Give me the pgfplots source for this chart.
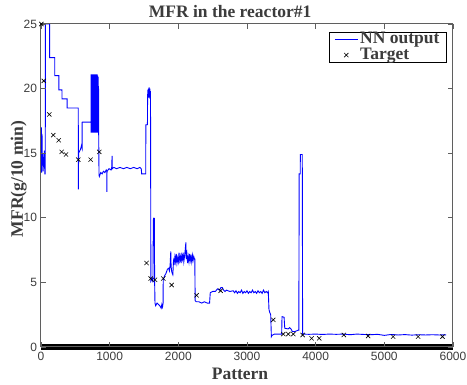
\documentclass[border=0pt]{standalone}
\usepackage{pgfplots}
\pgfplotsset{compat=1.18}
\usepackage{fontspec}
\setmainfont{Liberation Serif}
\newfontfamily\ticksans{Liberation Sans}
\definecolor{txt}{RGB}{60,60,60}
\definecolor{frm}{RGB}{95,95,95}
\newcommand\bigbf{\bfseries\fontsize{17.5}{18}\selectfont\color{txt}}
\begin{document}
\begin{tikzpicture}[x=1pt,y=1pt]
\useasboundingbox (-41,-38) rectangle (426,347);
\begin{axis}[
 at={(0,0)}, anchor=origin,
 scale only axis, width=412pt, height=323pt,
 xmin=0, xmax=6000, ymin=0, ymax=25,
 xtick={0,1000,...,6000}, ytick={0,5,...,25},
 /pgf/number format/1000 sep={},
 /pgf/number format/assume math mode=true,
 tick align=inside, major tick length=5pt,
 axis line style={frm, line width=1pt},
 every tick/.style={frm, line width=0.8pt},
 ticklabel style={font=\ticksans\fontsize{12}{12}\selectfont, text=txt},
 xticklabel style={yshift=-2pt},
 yticklabel style={xshift=-0.5pt},
 clip=false, axis on top,
 title={MFR in the reactor\#1},
 title style={at={(axis description cs:0.459,1)}, anchor=base, font=\bigbf},
 xlabel={Pattern},
 xlabel style={at={(axis description cs:0.483,0)}, anchor=base, yshift=-33pt, font=\bigbf},
 ylabel={MFR(g/10 min)},
 ylabel style={at={(axis description cs:-0.0437,0.52)}, anchor=base, font=\bigbf},
 legend image code/.code={\draw[mark repeat=2,mark phase=2,#1] plot coordinates {(0pt,0pt) (11.5pt,0pt) (23pt,0pt)};},
 legend style={at={(axis description cs:0.9854,0.975)}, anchor=north east, draw=black, line width=1pt,
   font=\bigbf, inner xsep=5pt, inner ysep=0pt, row sep=1.5pt,
   nodes={inner ysep=0pt, inner xsep=2pt, text height=11pt, text depth=3pt}},
 legend cell align=left,
]
\addplot[black, line width=6.4pt, forget plot] coordinates {(0,0) (6000,0)};
\addplot[blue, line width=0.9pt] coordinates {
(0,15.0)(5,17.0)(10,13.5)(15,16.5)(20,14.2)(25,15.0)(30,13.6)(40,14.5)(50,15.2)(55,13.4)(62,13.4)(64,25)(125,25)(126,22.4)
(200,22.4)(201,21.0)(260,21.0)(261,19.9)(305,19.9)(306,19.2)(380,19.2)(381,18.5)(543,18.5)(544,12.2)(548,15.0)(575,15.3)
(590,15.6)(598,15.4)(600,17.4)(728,17.4)(728,16.6)
(730,21.1)(732,16.6)(734,20.9)(736,16.6)(738,21.1)(740,16.7)(742,21.0)(744,16.6)(746,21.1)(748,16.6)(750,20.8)(752,16.6)(754,21.1)(756,16.6)(758,21.0)(760,16.7)(762,21.1)(764,16.6)(766,20.9)(768,16.6)(770,21.1)(772,16.6)(774,21.0)(776,16.6)(778,20.7)(780,16.6)(782,21.1)(784,16.6)(786,21.0)(788,16.6)(790,20.6)(792,16.6)(794,21.1)(796,16.6)(798,20.9)(800,16.6)(802,21.1)(804,16.7)(806,20.5)(808,16.6)(810,21.0)(812,16.6)(814,20.8)(816,16.6)(818,21.1)(820,16.6)(822,20.6)(824,16.6)(826,21.0)(828,16.6)(830,20.4)(832,16.6)(834,20.9)(836,16.6)(838,20.2)(840,16.6)
(845,13.3)(850,13.2)(870,13.5)(890,13.4)(910,13.6)(930,13.5)(950,13.7)(958,13.6)(960,12.0)(962,13.6)(990,13.8)(1020,13.7)
(1030,13.9)(1035,14.8)(1038,13.8)(1060,13.9)(1100,13.8)(1150,13.9)(1200,13.8)(1250,13.9)(1300,13.8)(1350,13.9)(1400,13.8)
(1440,13.9)(1460,13.8)(1466,13.4)(1525,13.4)(1527,17.2)(1550,17.2)(1552,19.0)(1555,19.9)(1560,19.4)(1565,20.0)(1570,19.3)
(1575,20.1)(1580,19.5)(1585,20.0)(1590,19.2)(1594,19.8)(1596,17.0)(1600,5.1)(1620,5.3)(1630,5.0)(1636,9.8)(1640,10.0)
(1645,9.6)(1650,10.0)(1655,5.0)(1660,3.4)(1670,3.2)(1690,3.4)(1710,3.3)(1730,3.2)(1750,3.0)(1760,3.3)(1770,3.1)(1778,3.4)
(1780,5.2)(1800,5.5)(1820,5.7)(1840,6.0)(1860,6.1)(1870,5.9)(1880,6.3)(1890,7.4)(1895,6.2)(1905,5.8)(1920,5.6)(1930,6.7)
(1940,6.5)(1950,7.0)(1960,6.6)(1970,7.2)(1980,6.5)(1990,6.9)(2000,6.6)(2010,7.3)(2020,6.7)(2030,7.0)(2040,6.5)(2050,7.1)
(2060,6.8)(2070,7.3)(2080,6.6)(2090,7.0)(2100,7.5)(2110,8.1)(2115,6.8)(2125,7.2)(2135,6.5)(2145,7.0)(2155,6.6)(2165,7.2)
(2175,6.7)(2185,7.0)(2195,6.6)(2205,7.1)(2215,6.7)(2225,7.0)(2235,6.8)(2240,6.8)(2245,3.6)(2260,3.5)(2300,3.5)(2340,3.4)
(2380,3.5)(2420,3.4)(2455,3.4)(2465,4.2)(2500,4.3)(2540,4.3)(2570,4.5)(2600,4.4)(2620,4.6)(2640,4.6)(2660,4.4)(2680,4.3)
(2700,4.4)(2750,4.3)(2800,4.35)(2820,4.2)(2840,4.35)(2860,4.15)(2880,4.3)(2900,4.2)(2920,4.4)(2940,4.15)(2960,4.3)(2980,4.2)
(3000,4.35)(3020,4.15)(3040,4.3)(3060,4.2)(3080,4.4)(3100,4.2)(3120,4.3)(3140,4.15)(3160,4.35)(3180,4.2)(3200,4.3)(3220,4.15)
(3240,4.4)(3260,4.2)(3280,4.3)(3300,4.2)(3310,4.3)(3320,2.9)(3330,2.7)(3345,2.5)(3355,0.8)(3365,0.9)(3400,1.0)(3450,1.0)
(3505,1.0)(3510,2.35)(3540,2.3)(3550,1.45)(3600,1.4)(3620,1.5)(3640,1.4)(3660,1.2)(3700,1.2)(3745,1.3)(3755,1.3)(3760,13.4)
(3775,13.4)(3777,14.9)(3805,14.9)(3810,1.0)(3820,1.0)(3900,0.98)(4000,1.0)(4100,0.97)(4200,1.0)(4300,0.98)(4400,1.0)
(4500,0.95)(4600,1.0)(4700,0.97)(4800,0.95)(4900,0.98)(5000,0.9)(5100,0.97)(5200,0.93)(5300,0.96)(5400,0.92)(5500,0.95)
(5600,0.93)(5700,0.95)(5800,0.93)(5900,0.94)
};
\addlegendentry{NN output}
\addplot[only marks, mark=x, mark size=3pt, black, mark options={line width=0.6pt}] coordinates {
(5,25.0)(40,20.6)(121,18.0)(179,16.4)(258,16.0)(301,15.1)(364,14.9)(543,14.5)(723,14.5)(849,15.1)
(1537,6.5)(1597,5.3)(1660,5.2)(1781,5.3)(1902,4.8)(2266,4.0)(2616,4.35)
(3383,2.1)(3529,1.0)(3602,1.0)(3675,1.0)(3810,0.93)(3941,0.67)(4052,0.67)(4410,0.93)(4764,0.85)(5128,0.8)(5492,0.8)(5847,0.8)
};
\addlegendentry{Target}
\end{axis}
\end{tikzpicture}
\end{document}
